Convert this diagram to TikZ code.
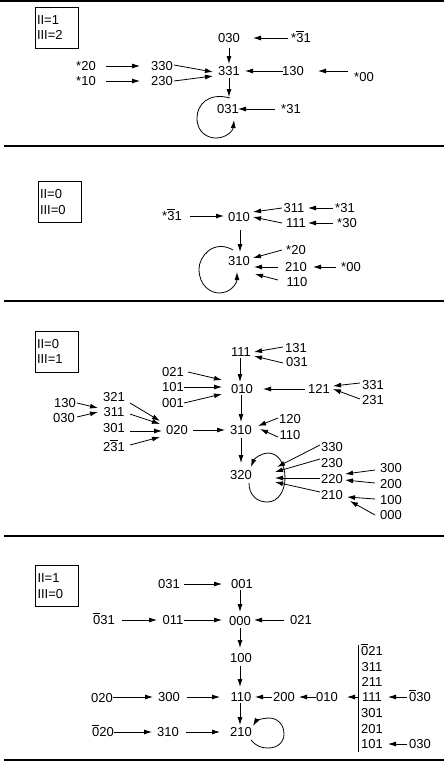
\documentclass[tikz,border=0pt]{standalone}
\usepackage{fontspec}
\usetikzlibrary{arrows.meta}
\newfontfamily\lbfam{Liberation Sans}
\newsavebox\obbox
\newcommand{\ob}[1]{\sbox\obbox{#1}\rlap{\raisebox{11pt}[0pt][0pt]{\rule{\wd\obbox}{0.8pt}}}\usebox\obbox}
\tikzset{
  lbl/.style={inner sep=0pt, font=\lbfam\fontsize{13}{15.5}\selectfont},
  arr/.style={-{Latex[length=8pt,width=5pt]}, line width=0.8pt},
  rulel/.style={line width=1.5pt},
  boxst/.style={draw, line width=1pt, minimum width=43pt, minimum height=41pt, inner xsep=2pt, inner ysep=0pt, align=left, text width=39pt, font=\lbfam\fontsize{13}{15.5}\selectfont}
}
\begin{document}
\begin{tikzpicture}[x=1pt,y=-1pt]
\useasboundingbox (0,0) rectangle (444,763);
% rules
\draw[rulel] (0,1) -- (444,1);
\draw[rulel] (4,146) -- (444,146);
\draw[rulel] (4,301) -- (444,301);
\draw[rulel] (4,536) -- (444,536);
\draw[rulel] (4,760) -- (444,760);

% ================= Panel 1
\node[boxst] (box1) at (56.5,27.5) {II=1\\III=2};
\node[lbl] (a030) at (229,38) {030};
\node[lbl] (as3b1) at (301,38) {*\ob{3}1};
\node[lbl] (a331) at (229,71) {331};
\node[lbl] (a130) at (293,71) {130};
\node[lbl] (as00) at (364,77) {*00};
\node[lbl] (a330) at (162,66) {330};
\node[lbl] (a230) at (162,81) {230};
\node[lbl] (as20) at (86,66) {*20};
\node[lbl] (as10) at (86,81) {*10};
\node[lbl] (a031) at (228,109) {031};
\node[lbl] (as31) at (291,109) {*31};
\draw[arr] ([shift={(-13,0)}]as3b1.center) -- ([shift={(24,0)}]a030.center);
\draw[arr] ([shift={(-10,0)}]a130.center) -- ([shift={(16,0)}]a331.center);
\draw[arr] ([shift={(-16,-6)}]as00.center) -- ([shift={(25,0)}]a130.center);
\draw[arr] ([shift={(20,0)}]as20.center) -- ([shift={(-22,0)}]a330.center);
\draw[arr] ([shift={(20,0)}]as10.center) -- ([shift={(-22,0)}]a230.center);
\draw[arr] ([shift={(12,-1)}]a330.center) -- ([shift={(-16,1)}]a331.center);
\draw[arr] ([shift={(12,0)}]a230.center) -- ([shift={(-16,5)}]a331.center);
\draw[arr] ([shift={(0,10)}]a030.center) -- ([shift={(0,-7)}]a331.center);
\draw[arr] ([shift={(0,7)}]a331.center) -- ([shift={(1,-12)}]a031.center);
\draw[arr] ([shift={(-16,0)}]as31.center) -- ([shift={(10,0)}]a031.center);
\begin{scope}[shift={(a031.center)}]
\draw[arr] (2,-11) .. controls (-20,-17) and (-31,-4) .. (-31,9) .. controls (-31,24) and (-20,29) .. (-12,29) .. controls (-2,29) and (5,22) .. (6,11);
\end{scope}

% ================= Panel 2
\node[boxst] (box2) at (59.5,202) {II=0\\III=0};
\node[lbl] (bs3b1) at (172,216) {*\ob{3}1};
\node[lbl] (b010) at (239,217) {010};
\node[lbl] (b311) at (294,208) {311};
\node[lbl] (b111) at (296,223) {111};
\node[lbl] (bs31) at (345,208) {*31};
\node[lbl] (bs30) at (347,223) {*30};
\node[lbl] (b310) at (239,261) {310};
\node[lbl] (bs20) at (296,250) {*20};
\node[lbl] (b210) at (296,267) {210};
\node[lbl] (b110) at (297,282) {110};
\node[lbl] (bs00) at (351,267) {*00};
\draw[arr] ([shift={(18,0)}]bs3b1.center) -- ([shift={(-15,-1)}]b010.center);
\draw[arr] ([shift={(-12,0)}]b311.center) -- ([shift={(14,-5)}]b010.center);
\draw[arr] ([shift={(-14,0)}]b111.center) -- ([shift={(14,0)}]b010.center);
\draw[arr] ([shift={(-12,0)}]bs31.center) -- ([shift={(14,0)}]b311.center);
\draw[arr] ([shift={(-14,0)}]bs30.center) -- ([shift={(12,0)}]b111.center);
\draw[arr] ([shift={(1,13)}]b010.center) -- ([shift={(1,-9)}]b310.center);
\draw[arr] ([shift={(-14,0)}]bs20.center) -- ([shift={(14,-3)}]b310.center);
\draw[arr] ([shift={(-18,0)}]b210.center) -- ([shift={(15,6)}]b310.center);
\draw[arr] ([shift={(-19,-2)}]b110.center) -- ([shift={(16,13)}]b310.center);
\draw[arr] ([shift={(-15,0)}]bs00.center) -- ([shift={(17,0)}]b210.center);
\begin{scope}[shift={(b310.center)}]
\draw[arr] (-6,-11) .. controls (-25,-22) and (-40,-5) .. (-40,8) .. controls (-40,25) and (-28,32) .. (-20,32) .. controls (-8,32) and (-2,22) .. (-2,11);
\end{scope}

% ================= Panel 3
\node[boxst] (box3) at (56.5,351.5) {II=0\\III=1};
\node[lbl] (c111) at (241,352) {111};
\node[lbl] (c131) at (296,348) {131};
\node[lbl] (c031) at (297,362) {031};
\node[lbl] (c010) at (242,389) {010};
\node[lbl] (c021) at (173,372) {021};
\node[lbl] (c101) at (173,387) {101};
\node[lbl] (c001) at (173,403) {001};
\node[lbl] (c121) at (319,389) {121};
\node[lbl] (c331) at (373,385) {331};
\node[lbl] (c231) at (373,400) {231};
\node[lbl] (c310) at (241,430) {310};
\node[lbl] (c120) at (290,419) {120};
\node[lbl] (c110) at (290,435) {110};
\node[lbl] (c020) at (177,430) {020};
\node[lbl] (c321) at (114,397) {321};
\node[lbl] (c311) at (114,412) {311};
\node[lbl] (c301) at (114,428) {301};
\node[lbl] (c2b31) at (114,447) {2\ob{3}1};
\node[lbl] (c130) at (65,403) {130};
\node[lbl] (c030) at (64,418) {030};
\node[lbl] (c320) at (241,475) {320};
\node[lbl] (c330) at (332,447) {330};
\node[lbl] (c230) at (332,463) {230};
\node[lbl] (c220) at (332,479) {220};
\node[lbl] (c210) at (332,495) {210};
\node[lbl] (c300) at (391,468) {300};
\node[lbl] (c200) at (391,484) {200};
\node[lbl] (c100) at (391,500) {100};
\node[lbl] (c000) at (391,515) {000};
\draw[arr] ([shift={(-13,-1)}]c131.center) -- ([shift={(13,0)}]c111.center);
\draw[arr] ([shift={(-14,1)}]c031.center) -- ([shift={(13,4)}]c111.center);
\draw[arr] ([shift={(-1,6)}]c111.center) -- ([shift={(-2,-7)}]c010.center);
\draw[arr] ([shift={(15,0)}]c021.center) -- ([shift={(-20,-9)}]c010.center);
\draw[arr] ([shift={(11,0)}]c101.center) -- ([shift={(-20,-2)}]c010.center);
\draw[arr] ([shift={(11,0)}]c001.center) -- ([shift={(-20,5)}]c010.center);
\draw[arr] ([shift={(-14,0)}]c121.center) -- ([shift={(21,0)}]c010.center);
\draw[arr] ([shift={(-13,-2)}]c331.center) -- ([shift={(14,-3)}]c121.center);
\draw[arr] ([shift={(-13,-1)}]c231.center) -- ([shift={(14,0)}]c121.center);
\draw[arr] ([shift={(-1,6)}]c010.center) -- ([shift={(0,-8)}]c310.center);
\draw[arr] ([shift={(-12,-1)}]c120.center) -- ([shift={(17,-4)}]c310.center);
\draw[arr] ([shift={(-12,2)}]c110.center) -- ([shift={(19,-1)}]c310.center);
\draw[arr] ([shift={(16,0)}]c020.center) -- ([shift={(-16,0)}]c310.center);
\draw[arr] ([shift={(16,6)}]c321.center) -- ([shift={(-17,-9)}]c020.center);
\draw[arr] ([shift={(16,2)}]c311.center) -- ([shift={(-17,-6)}]c020.center);
\draw[arr] ([shift={(16,3)}]c301.center) -- ([shift={(-15,1)}]c020.center);
\draw[arr] ([shift={(16,-2)}]c2b31.center) -- ([shift={(-17,7)}]c020.center);
\draw[arr] ([shift={(12,0)}]c130.center) -- ([shift={(-16,-4)}]c311.center);
\draw[arr] ([shift={(13,-1)}]c030.center) -- ([shift={(-16,0)}]c311.center);
\draw[arr] ([shift={(0,8)}]c310.center) -- ([shift={(0,-12)}]c320.center);
\begin{scope}[shift={(c320.center)}]
\draw[arr] (8,8) .. controls (8,20) and (16,27) .. (26,27) .. controls (38,27) and (44,15) .. (44,3) .. controls (44,-12) and (37,-22) .. (27,-22) .. controls (20,-22) and (13,-16) .. (10,-8);
\end{scope}
\draw[arr] ([shift={(-12,-2)}]c330.center) -- ([shift={(36,-8)}]c320.center);
\draw[arr] ([shift={(-12,-4)}]c230.center) -- ([shift={(34,-3)}]c320.center);
\draw[arr] ([shift={(-12,-1)}]c220.center) -- ([shift={(34,3)}]c320.center);
\draw[arr] ([shift={(-12,-3)}]c210.center) -- ([shift={(34,7)}]c320.center);
\draw[arr] ([shift={(-16,2)}]c300.center) -- ([shift={(13,-5)}]c220.center);
\draw[arr] ([shift={(-16,-1)}]c200.center) -- ([shift={(13,1)}]c220.center);
\draw[arr] ([shift={(-16,-1)}]c100.center) -- ([shift={(15,2)}]c210.center);
\draw[arr] ([shift={(-16,0)}]c000.center) -- ([shift={(18,6)}]c210.center);

% ================= Panel 4
\node[boxst] (box4) at (57,586) {II=1\\III=0};
\node[lbl] (d031) at (169,584) {031};
\node[lbl] (d001) at (242,584) {001};
\node[lbl] (d000) at (240,621) {000};
\node[lbl] (d0b31) at (104,620) {\ob{0}31};
\node[lbl] (d011) at (173,620) {011};
\node[lbl] (d021) at (301,620) {021};
\node[lbl] (d100) at (241,658) {100};
\node[lbl] (d110) at (241,697) {110};
\node[lbl] (d300) at (169,697) {300};
\node[lbl] (d020) at (102,698) {020};
\node[lbl] (d200) at (284,697) {200};
\node[lbl] (d010) at (327,697) {010};
\node[lbl] (d0b21) at (372,651) {\ob{0}21};
\node[lbl] (d311) at (372,667) {311};
\node[lbl] (d211) at (372,682) {211};
\node[lbl] (d111) at (372,697) {111};
\node[lbl] (d301) at (372,713) {301};
\node[lbl] (d201) at (372,729) {201};
\node[lbl] (d101) at (372,744) {101};
\node[lbl] (d0b30) at (420,697) {\ob{0}30};
\node[lbl] (d030) at (420,744) {030};
\node[lbl] (d210) at (241,732) {210};
\node[lbl] (d0b20) at (103,732) {\ob{0}20};
\node[lbl] (d310) at (168,732) {310};
\coordinate (bartop) at ([shift={(-14,-6)}]d0b21.center);
\coordinate (barbot) at ([shift={(-14,8)}]d101.center);
\coordinate (barmid) at ([shift={(-14,0)}]d111.center);
\draw[line width=0.8pt] (bartop) -- (barbot);
\draw[arr] ([shift={(15,0)}]d031.center) -- ([shift={(-20,0)}]d001.center);
\draw[arr] ([shift={(-2,6)}]d001.center) -- ([shift={(0,-9)}]d000.center);
\draw[arr] ([shift={(18,0)}]d0b31.center) -- ([shift={(-16,0)}]d011.center);
\draw[arr] ([shift={(11,0)}]d011.center) -- ([shift={(-18,-1)}]d000.center);
\draw[arr] ([shift={(-17,0)}]d021.center) -- ([shift={(14,-1)}]d000.center);
\draw[arr] ([shift={(0,7)}]d000.center) -- ([shift={(-1,-10)}]d100.center);
\draw[arr] ([shift={(-1,8)}]d100.center) -- ([shift={(-1,-10)}]d110.center);
\draw[arr] ([shift={(11,-1)}]d020.center) -- ([shift={(-16,0)}]d300.center);
\draw[arr] ([shift={(18,0)}]d300.center) -- ([shift={(-21,0)}]d110.center);
\draw[arr] ([shift={(-12,0)}]d200.center) -- ([shift={(14,0)}]d110.center);
\draw[arr] ([shift={(-11,0)}]d010.center) -- ([shift={(15,0)}]d200.center);
\draw[arr] (barmid) -- ([shift={(20,0)}]d010.center);
\draw[arr] ([shift={(-13,0)}]d0b30.center) -- ([shift={(16,0)}]d111.center);
\draw[arr] ([shift={(-13,0)}]d030.center) -- ([shift={(16,0)}]d101.center);
\draw[arr] ([shift={(-1,6)}]d110.center) -- ([shift={(-1,-7)}]d210.center);
\draw[arr] ([shift={(11,0)}]d0b20.center) -- ([shift={(-16,0)}]d310.center);
\draw[arr] ([shift={(18,0)}]d310.center) -- ([shift={(-21,0)}]d210.center);
\begin{scope}[shift={(d210.center)}]
\draw[arr] (10,8) .. controls (15,14) and (20,16) .. (27,16) .. controls (37,16) and (43,10) .. (43,2) .. controls (43,-8) and (36,-14) .. (28,-14) .. controls (21,-14) and (15,-11) .. (12,-6);
\end{scope}
\end{tikzpicture}
\end{document}
